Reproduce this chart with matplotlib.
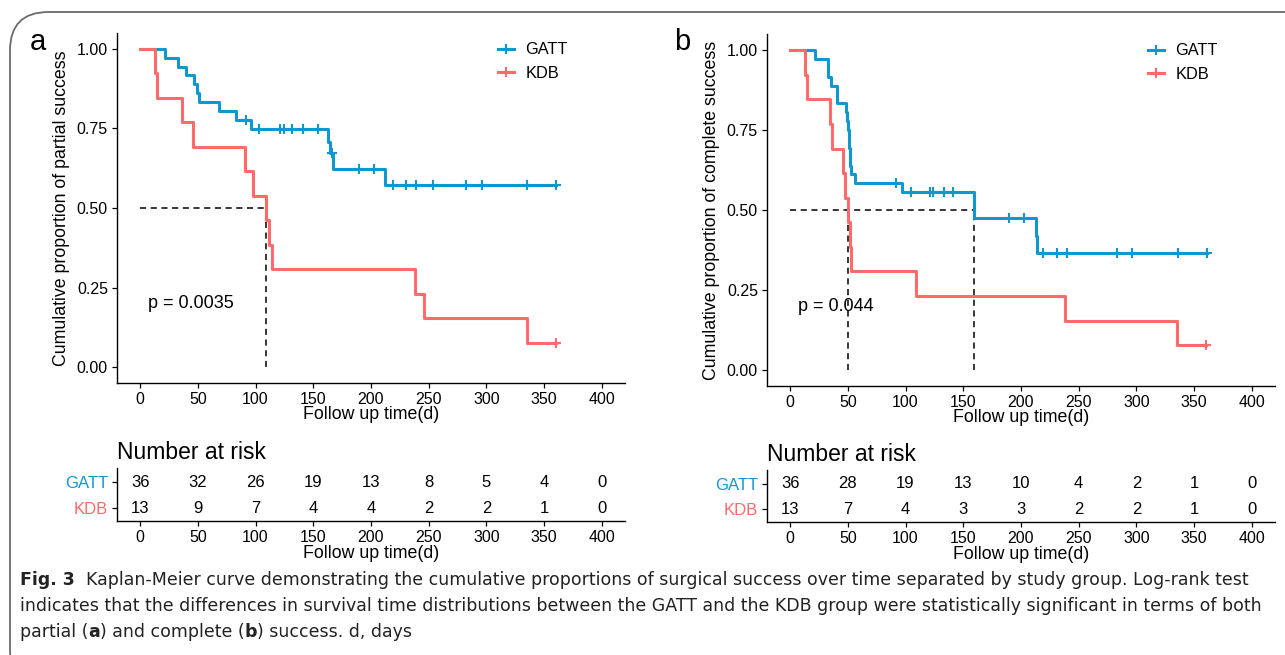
import numpy as np
import matplotlib
matplotlib.use("Agg")
import matplotlib.pyplot as plt
from matplotlib.patches import FancyBboxPatch
from matplotlib.lines import Line2D

plt.rcParams['font.family'] = ['Liberation Sans', 'DejaVu Sans']

# colours of the two groups
gatt_col = "#0F97CF"
kdb_col = "#FF6B6B"

# ---- panel a: partial success ----
a_gatt_t = [0, 22, 33, 40, 47, 49, 51, 68, 83, 96, 163, 164.5, 167, 212]
a_gatt_s = [1.0, 0.972, 0.944, 0.917, 0.889, 0.861, 0.833, 0.806, 0.778, 0.749, 0.708, 0.672, 0.622, 0.571]
a_gatt_cens = [92, 103, 121, 125, 132, 141, 154, 166, 190, 203, 219, 230, 239, 254, 282, 296, 335, 360]
a_kdb_t = [0, 13, 15, 36, 46, 91, 98, 109, 112, 114, 238, 246, 335]
a_kdb_s = [1.0, 0.923, 0.846, 0.769, 0.692, 0.615, 0.538, 0.462, 0.385, 0.308, 0.231, 0.154, 0.077]
a_kdb_cens = [360]
a_pval = "p = 0.0035"
a_risk_gatt = [36, 32, 26, 19, 13, 8, 5, 4, 0]
a_risk_kdb = [13, 9, 7, 4, 4, 2, 2, 1, 0]

# ---- panel b: complete success ----
b_gatt_t = [0, 22, 33, 35, 41, 48.3, 49.2, 50.3, 50.6, 52, 52.6, 56.4, 97, 159.5, 212.8, 214.2]
b_gatt_s = [1.0, 0.972, 0.917, 0.889, 0.833, 0.806, 0.778, 0.750, 0.694, 0.639, 0.611, 0.583, 0.556, 0.474, 0.419, 0.365]
b_gatt_cens = [92, 105, 121, 124, 133, 141, 190, 203, 219, 231, 240, 283, 296, 336, 361]
b_kdb_t = [0, 13, 15, 34.5, 36, 46, 47.5, 50.3, 51.5, 53, 109, 238, 335]
b_kdb_s = [1.0, 0.923, 0.846, 0.769, 0.692, 0.615, 0.538, 0.462, 0.385, 0.308, 0.231, 0.154, 0.077]
b_kdb_cens = [360]
b_pval = "p = 0.044"
b_risk_gatt = [36, 28, 19, 13, 10, 4, 2, 1, 0]
b_risk_kdb = [13, 7, 4, 3, 3, 2, 2, 1, 0]

risk_times = [0, 50, 100, 150, 200, 250, 300, 350, 400]
groups = ["GATT", "KDB"]

W, H = 1285, 655
fig = plt.figure(figsize=(W / 100, H / 100), dpi=100)


def px(l, t, r, b):
    # pixel box -> figure fraction rect
    return [l / W, 1 - b / H, (r - l) / W, (b - t) / H]


def km_line(ax, t, s, cens, col):
    t = np.asarray(t, float)
    s = np.asarray(s, float)
    end = max(max(cens), t[-1])
    tt = np.append(t, end)
    ss = np.append(s, s[-1])
    ax.step(tt, ss, where='post', color=col, lw=2.2, zorder=3)
    idx = np.searchsorted(t, cens, side='right') - 1
    ax.plot(cens, s[idx], ls='none', marker='+', ms=7, mew=1.5, color=col, zorder=4)


def median(t, s):
    for ti, si in zip(t, s):
        if si <= 0.5:
            return ti
    return None


def style(ax, size):
    for sp in ['top', 'right']:
        ax.spines[sp].set_visible(False)
    for sp in ['left', 'bottom']:
        ax.spines[sp].set_linewidth(1.0)
        ax.spines[sp].set_color('black')
    ax.tick_params(length=3.5, width=0.9, labelsize=size, colors='black', pad=3)


def main_panel(rect, gt, gs, gc, kt, ks, kc, pval, ylab, letter, letter_x):
    ax = fig.add_axes(rect)
    km_line(ax, gt, gs, gc, gatt_col)
    km_line(ax, kt, ks, kc, kdb_col)
    meds = [m for m in (median(gt, gs), median(kt, ks)) if m is not None]
    ax.plot([0, max(meds)], [0.5, 0.5], ls=(0, (4, 3)), color='black', lw=1.1, zorder=2)
    for m in meds:
        ax.plot([m, m], [0, 0.5], ls=(0, (4, 3)), color='black', lw=1.1, zorder=2)
    ax.set_xlim(-20, 420)
    ax.set_ylim(-0.05, 1.05)
    ax.set_xticks(risk_times)
    ax.set_yticks([0, 0.25, 0.5, 0.75, 1.0])
    ax.set_yticklabels(["0.00", "0.25", "0.50", "0.75", "1.00"])
    style(ax, 11.5)
    ax.set_xlabel("Follow up time(d)", fontsize=12.8, labelpad=-1)
    ax.set_ylabel(ylab, fontsize=12.8, labelpad=5)
    ax.text(7, 0.2, pval, fontsize=13, ha='left', va='center')
    handles = [Line2D([], [], color=c, lw=2.2, marker='+', ms=7, mew=1.5)
               for c in (gatt_col, kdb_col)]
    ax.legend(handles, groups, loc='upper left', bbox_to_anchor=(0.72, 1.015),
              frameon=False, fontsize=11.8, handlelength=1.0, handletextpad=0.7,
              labelspacing=0.5, numpoints=1)
    fig.text(letter_x / W, 1 - 42 / H, letter, fontsize=21, ha='center', va='center')
    return ax


def risk_panel(rect, rg, rk):
    ax = fig.add_axes(rect)
    for i, vals in enumerate([rg, rk]):
        for x, v in zip(risk_times, vals):
            ax.text(x, 2 - i, str(v), ha='center', va='center', fontsize=12)
    ax.set_xlim(-20, 420)
    ax.set_ylim(0.5, 2.55)
    ax.set_xticks(risk_times)
    ax.set_yticks([2, 1])
    ax.set_yticklabels(groups)
    style(ax, 11.5)
    for lab, col in zip(ax.get_yticklabels(), [gatt_col, kdb_col]):
        lab.set_color(col)
        lab.set_fontsize(12)
    ax.set_xlabel("Follow up time(d)", fontsize=12.8, labelpad=0)
    ax.text(0, 1.3, "Number at risk", transform=ax.transAxes, fontsize=16.5,
            ha='left', va='center')
    return ax


main_panel(px(117, 33, 625, 383), a_gatt_t, a_gatt_s, a_gatt_cens,
           a_kdb_t, a_kdb_s, a_kdb_cens, a_pval,
           "Cumulative proportion of partial success", "a", 38)
main_panel(px(767, 34, 1275, 386), b_gatt_t, b_gatt_s, b_gatt_cens,
           b_kdb_t, b_kdb_s, b_kdb_cens, b_pval,
           "Cumulative proportion of complete success", "b", 682)
risk_panel(px(117, 468, 625, 521), a_risk_gatt, a_risk_kdb)
risk_panel(px(767, 470, 1275, 522), b_risk_gatt, b_risk_kdb)

# rounded frame round the figure
frame = FancyBboxPatch((10 / W, -0.05), 1.2, 1 - 12 / H + 0.05,
                       boxstyle="round,pad=0,rounding_size=0.03",
                       transform=fig.transFigure, fill=False,
                       edgecolor='#6b6b6b', lw=1.3, mutation_aspect=W / H)
fig.patches.append(frame)

# caption, mixed bold / normal pieces
cap_font = ['DejaVu Sans']
caption = [
    [("Fig. 3", True), ("  Kaplan-Meier curve demonstrating the cumulative proportions of surgical success over time separated by study group. Log-rank test", False)],
    [("indicates that the differences in survival time distributions between the GATT and the KDB group were statistically significant in terms of both", False)],
    [("partial (", False), ("a", True), (") and complete (", False), ("b", True), (") success. d, days", False)],
]
renderer = fig.canvas.get_renderer()
for row, yy in zip(caption, [580, 606, 632]):
    x = 20 / W
    for txt, bold in row:
        t = fig.text(x, 1 - yy / H, txt, fontsize=12.5, family=cap_font,
                     weight='bold' if bold else 'normal', ha='left', va='center',
                     color='#222222')
        bb = t.get_window_extent(renderer)
        x += bb.width / W

fig.savefig("out.png", dpi=100)
